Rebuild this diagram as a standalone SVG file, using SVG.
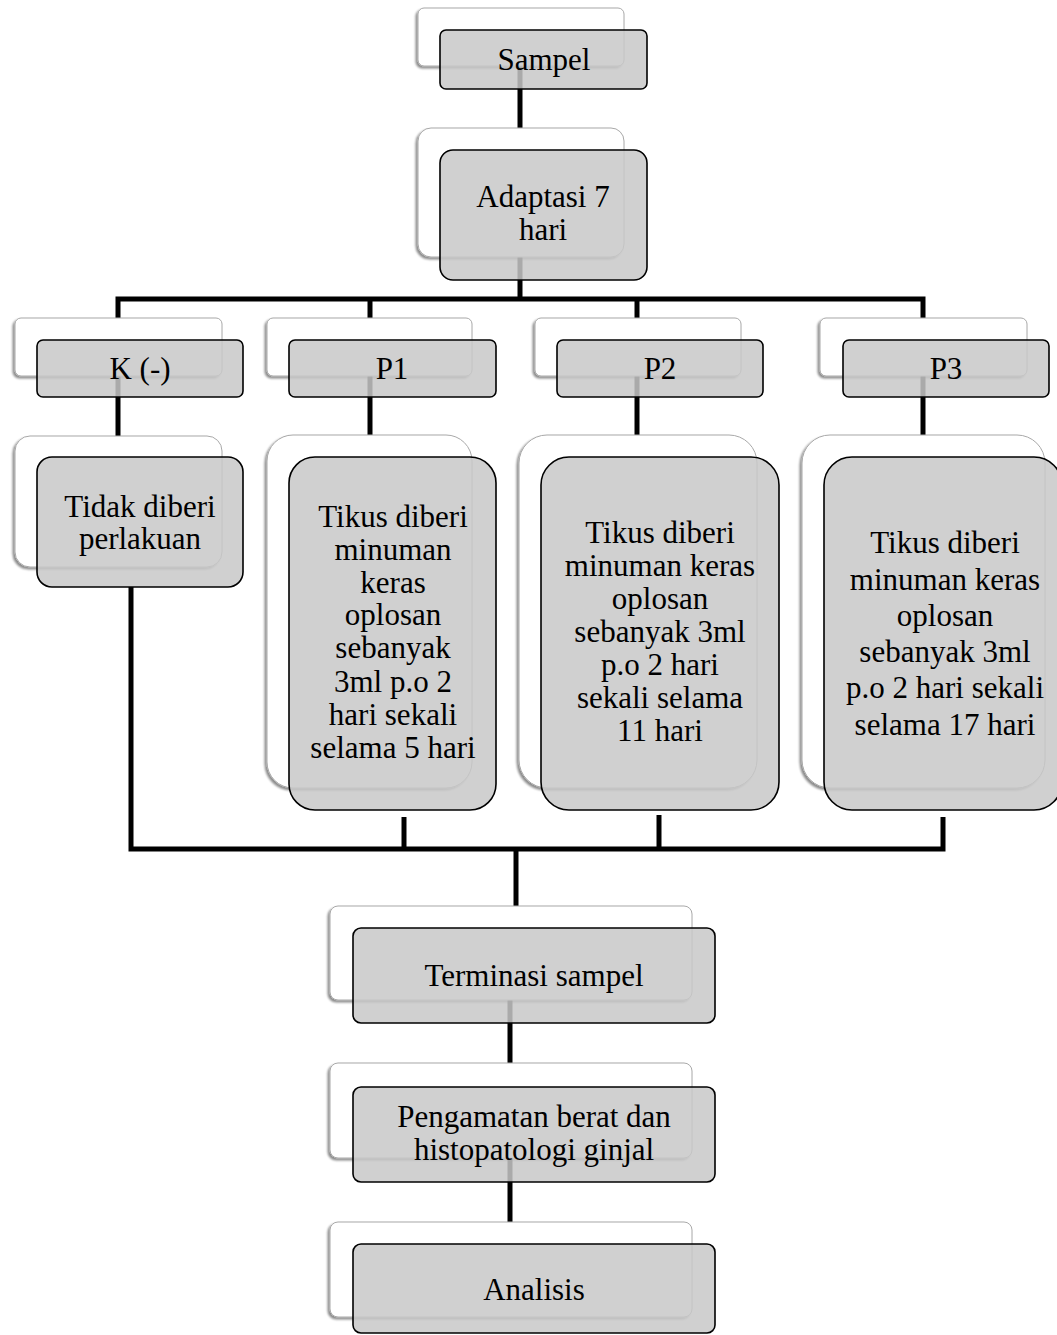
<svg xmlns="http://www.w3.org/2000/svg" width="1057" height="1335" viewBox="0 0 1057 1335">
<defs>
<filter id="sh" x="-10%" y="-10%" width="120%" height="130%">
<feDropShadow dx="-2" dy="2" stdDeviation="1.2" flood-color="#000" flood-opacity="0.45"/>
</filter>
</defs>
<style>
.bk{fill:#ffffff;stroke:#a8a8a8;stroke-width:1;filter:url(#sh)}
.fr{fill:#c8c8c8;fill-opacity:0.85;stroke:#000;stroke-width:1.6}
.t{font-family:"Liberation Serif","Times New Roman",serif;font-size:31px;fill:#000;text-anchor:middle}
.c{fill:none;stroke:#000;stroke-width:5;stroke-linejoin:miter;stroke-linecap:butt}
</style>
<rect width="1057" height="1335" fill="#ffffff"/>
<g id="connectors">
<path class="c" d="M520 66 V128"/>
<path class="c" d="M520 257 V299"/>
<path class="c" d="M118 318 V299 H923 V318"/>
<path class="c" d="M370 299 V318"/>
<path class="c" d="M637 299 V318"/>
<path class="c" d="M118 376 V436"/>
<path class="c" d="M370 376 V435"/>
<path class="c" d="M637 376 V435"/>
<path class="c" d="M923 376 V435"/>
<path class="c" d="M131 587 V849 H943 V817"/>
<path class="c" d="M404 817 V849"/>
<path class="c" d="M659 815 V849"/>
<path class="c" d="M516 849 V906"/>
<path class="c" d="M510 1000 V1063"/>
<path class="c" d="M510 1158 V1222"/>
</g>
<g id="sampel">
<rect class="bk" x="418" y="8" width="206" height="58" rx="6"/>
<rect class="fr" x="440" y="30" width="207" height="59" rx="6"/>
<text class="t" x="544" y="70">Sampel</text>
</g>
<g id="adaptasi">
<rect class="bk" x="418" y="128" width="206" height="129" rx="13"/>
<rect class="fr" x="440" y="150" width="207" height="130" rx="13"/>
<text class="t" x="543" y="207">Adaptasi 7</text>
<text class="t" x="543" y="240">hari</text>
</g>
<g id="k">
<rect class="bk" x="15" y="318" width="207" height="58" rx="6"/>
<rect class="fr" x="37" y="340" width="206" height="57" rx="6"/>
<text class="t" x="140" y="379">K (-)</text>
</g>
<g id="p1">
<rect class="bk" x="267" y="318" width="205" height="58" rx="6"/>
<rect class="fr" x="289" y="340" width="207" height="57" rx="6"/>
<text class="t" x="392" y="379">P1</text>
</g>
<g id="p2">
<rect class="bk" x="535" y="318" width="206" height="58" rx="6"/>
<rect class="fr" x="557" y="340" width="206" height="57" rx="6"/>
<text class="t" x="660" y="379">P2</text>
</g>
<g id="p3">
<rect class="bk" x="820" y="318" width="207" height="58" rx="6"/>
<rect class="fr" x="843" y="340" width="206" height="57" rx="6"/>
<text class="t" x="946" y="379">P3</text>
</g>
<g id="k-desc">
<rect class="bk" x="15" y="436" width="207" height="131" rx="15"/>
<rect class="fr" x="37" y="457" width="206" height="130" rx="15"/>
<text class="t" x="140" y="517">Tidak diberi</text>
<text class="t" x="140" y="549">perlakuan</text>
</g>
<g id="p1-desc">
<rect class="bk" x="267" y="435" width="205" height="353" rx="26"/>
<rect class="fr" x="289" y="457" width="207" height="353" rx="26"/>
<text class="t" x="393" y="527">Tikus diberi</text>
<text class="t" x="393" y="560">minuman</text>
<text class="t" x="393" y="593">keras</text>
<text class="t" x="393" y="625">oplosan</text>
<text class="t" x="393" y="658">sebanyak</text>
<text class="t" x="393" y="692">3ml p.o 2</text>
<text class="t" x="393" y="725">hari sekali</text>
<text class="t" x="393" y="758">selama 5 hari</text>
</g>
<g id="p2-desc">
<rect class="bk" x="519" y="435" width="238" height="353" rx="28"/>
<rect class="fr" x="541" y="457" width="238" height="353" rx="28"/>
<text class="t" x="660" y="543">Tikus diberi</text>
<text class="t" x="660" y="576">minuman keras</text>
<text class="t" x="660" y="609">oplosan</text>
<text class="t" x="660" y="642">sebanyak 3ml</text>
<text class="t" x="660" y="675">p.o 2 hari</text>
<text class="t" x="660" y="708">sekali selama</text>
<text class="t" x="660" y="741">11 hari</text>
</g>
<g id="p3-desc">
<rect class="bk" x="802" y="435" width="243" height="353" rx="28"/>
<rect class="fr" x="824" y="457" width="238" height="353" rx="28"/>
<text class="t" x="945" y="553">Tikus diberi</text>
<text class="t" x="945" y="590">minuman keras</text>
<text class="t" x="945" y="626">oplosan</text>
<text class="t" x="945" y="662">sebanyak 3ml</text>
<text class="t" x="945" y="698">p.o 2 hari sekali</text>
<text class="t" x="945" y="735">selama 17 hari</text>
</g>
<g id="terminasi">
<rect class="bk" x="330" y="906" width="362" height="94" rx="8"/>
<rect class="fr" x="353" y="928" width="362" height="95" rx="8"/>
<text class="t" x="534" y="986">Terminasi sampel</text>
</g>
<g id="pengamatan">
<rect class="bk" x="330" y="1063" width="362" height="95" rx="8"/>
<rect class="fr" x="353" y="1087" width="362" height="95" rx="8"/>
<text class="t" x="534" y="1127">Pengamatan berat dan</text>
<text class="t" x="534" y="1160">histopatologi ginjal</text>
</g>
<g id="analisis">
<rect class="bk" x="330" y="1222" width="362" height="95" rx="8"/>
<rect class="fr" x="353" y="1244" width="362" height="89" rx="8"/>
<text class="t" x="534" y="1300">Analisis</text>
</g>
</svg>
